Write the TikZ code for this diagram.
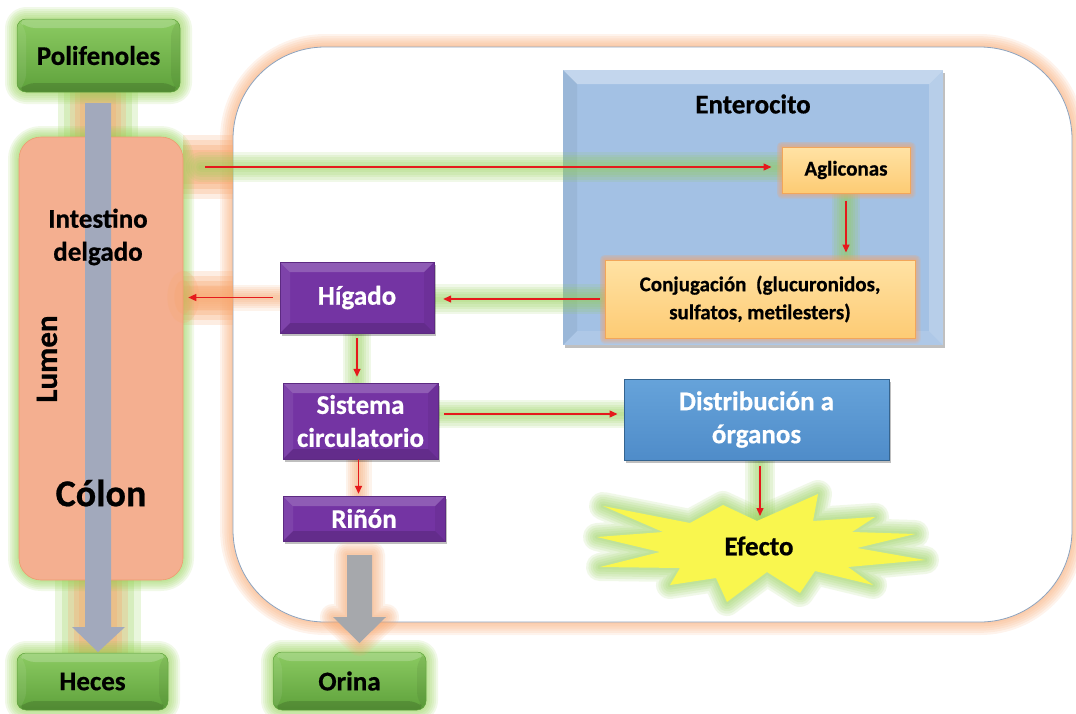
\documentclass[tikz,border=0pt]{standalone}
\usepackage{fontspec}
\setmainfont{Carlito}[BoldFeatures={FakeBold=0.6}]
\usetikzlibrary{arrows.meta,calc}

\definecolor{gl}{HTML}{92D050}
\definecolor{og}{HTML}{F7A56C}
\definecolor{grnT}{HTML}{8CCB62}
\definecolor{grnB}{HTML}{5EA13B}
\definecolor{salmon}{HTML}{F4AF90}
\definecolor{lumE}{HTML}{EE9A70}
\definecolor{purp}{HTML}{7434A3}
\definecolor{entb}{HTML}{A3C1E4}
\definecolor{aglT}{HTML}{FFE2A4}
\definecolor{aglB}{HTML}{FDCB74}
\definecolor{aglE}{HTML}{F2A65A}
\definecolor{distT}{HTML}{66A3DA}
\definecolor{distB}{HTML}{4F8CC9}
\definecolor{distd}{HTML}{35648F}
\definecolor{stary}{HTML}{F9F64E}
\definecolor{arrowred}{HTML}{E5191C}
\definecolor{lumarrow}{HTML}{A2A9BC}
\definecolor{orinarrow}{HTML}{A6A8AC}
\definecolor{bigedge}{HTML}{8DA3BE}

\pgfdeclarelayer{bg}
\pgfdeclarelayer{glow}
\pgfsetlayers{bg,glow,main}

\tikzset{
  lab/.style={font=\bfseries\fontsize{27}{33}\selectfont, align=center, inner sep=0pt, text=black},
  smalllab/.style={font=\bfseries\fontsize{21}{28}\selectfont, align=center, inner sep=0pt, text=black},
  % soft halo: six strokes of decreasing width
  glow/.style 2 args={
    preaction={draw=#1,line width=#2,draw opacity=.13,line join=round,line cap=round},
    preaction={draw=#1,line width=#2*5/6,draw opacity=.13,line join=round,line cap=round},
    preaction={draw=#1,line width=#2*4/6,draw opacity=.13,line join=round,line cap=round},
    preaction={draw=#1,line width=#2*3/6,draw opacity=.13,line join=round,line cap=round},
    preaction={draw=#1,line width=#2*2/6,draw opacity=.13,line join=round,line cap=round},
    preaction={draw=#1,line width=#2/6,draw opacity=.13,line join=round,line cap=round}},
  bandglow/.style={preaction={draw=og,line width=#1+14pt,draw opacity=.2},
                   preaction={draw=og,line width=#1+4pt,draw opacity=.25},
                   preaction={draw=og,line width=#1-6pt,draw opacity=.3},
                   preaction={draw=og,line width=#1-16pt,draw opacity=.3}},
  shadowed/.style={preaction={fill=black,fill opacity=.25,transform canvas={xshift=2pt,yshift=-2.5pt}}},
  bevel/.style={path picture={
      \coordinate (bNW) at (path picture bounding box.north west);
      \coordinate (bNE) at (path picture bounding box.north east);
      \coordinate (bSW) at (path picture bounding box.south west);
      \coordinate (bSE) at (path picture bounding box.south east);
      \fill[white,opacity=.2] (bNW) -- (bNE) -- ($(bNE)+(-#1,-#1)$) -- ($(bNW)+(#1,-#1)$) -- cycle;
      \fill[white,opacity=.08] (bNW) -- ($(bNW)+(#1,-#1)$) -- ($(bSW)+(#1,#1)$) -- (bSW) -- cycle;
      \fill[black,opacity=.06] (bNE) -- (bSE) -- ($(bSE)+(-#1,#1)$) -- ($(bNE)+(-#1,-#1)$) -- cycle;
      \fill[black,opacity=.14] (bSW) -- (bSE) -- ($(bSE)+(-#1,#1)$) -- ($(bSW)+(#1,#1)$) -- cycle;
  }},
  lightbevel/.style={path picture={
      \coordinate (bNW) at (path picture bounding box.north west);
      \coordinate (bNE) at (path picture bounding box.north east);
      \coordinate (bSW) at (path picture bounding box.south west);
      \coordinate (bSE) at (path picture bounding box.south east);
      \fill[white,opacity=.35] (bNW) -- (bNE) -- ($(bNE)+(-#1,-#1)$) -- ($(bNW)+(#1,-#1)$) -- cycle;
      \fill[white,opacity=.22] (bNE) -- (bSE) -- ($(bSE)+(-#1,#1)$) -- ($(bNE)+(-#1,-#1)$) -- cycle;
      \fill[white,opacity=.12] (bSW) -- (bSE) -- ($(bSE)+(-#1,#1)$) -- ($(bSW)+(#1,#1)$) -- cycle;
      \fill[black,opacity=.05] (bNW) -- ($(bNW)+(#1,-#1)$) -- ($(bSW)+(#1,#1)$) -- (bSW) -- cycle;
  }},
  greenbox/.style={lab, rounded corners=9pt, top color=grnT, bottom color=grnB,
                   draw=grnB, line width=.5pt, glow={gl}{24pt}, bevel=9pt},
  purplebox/.style={lab, text=white, fill=purp, draw=purp!80!black, line width=.4pt,
                    shadowed, bevel=10pt},
  aglbox/.style={smalllab, top color=aglT, bottom color=aglB, draw=aglE, line width=1pt,
                 glow={og}{11pt}},
  redarrow/.style={draw=arrowred, line width=1.4pt, -{Triangle[length=8pt,width=7pt]}},
}

\begin{document}
\begin{tikzpicture}[x=1pt,y=1pt]
\useasboundingbox (0,0) rectangle (1076,-713);

% ---------- outer nodes (lumen side) ----------
\node[greenbox, minimum width=163pt, minimum height=73pt] (poli) at (98.5,-55.5) {Polifenoles};
\node[rounded corners=22pt, fill=salmon, draw=lumE, line width=.6pt, glow={gl}{22pt},
      minimum width=164pt, minimum height=443pt, inner sep=0pt] (lum) at (101,-358.5) {};
\node[greenbox, minimum width=151pt, minimum height=57pt] (hec) at (92.5,-681.5) {Heces};
\node[greenbox, minimum width=153pt, minimum height=58pt] (ori) at (349.5,-681) {Orina};

% darker orange spot where the liver arrow reaches the lumen
\fill[og, opacity=.2] (lum.east |- 0,-297) ellipse (16 and 26);
\fill[og, opacity=.25] (lum.east |- 0,-297) ellipse (9 and 17);

% gray flow arrow through the lumen
\coordinate (ltop) at (98,-103);
\coordinate (ltip) at (98,-652);
\fill[lumarrow] ($(ltop)+(-13,0)$) -- ($(ltop)+(13,0)$) -- ($(ltip)+(13,25)$) -- ($(ltip)+(27,25)$)
  -- (ltip) -- ($(ltip)+(-26,25)$) -- ($(ltip)+(-13,25)$) -- cycle;

\node[lab] (intd) at (98,-237) {Intestino\\delgado};
\node[lab, font=\bfseries\fontsize{31}{36}\selectfont, rotate=90] (lumen) at (47,-359) {Lumen};
\node[lab, font=\bfseries\fontsize{38}{44}\selectfont] (colon) at (101,-493) {Cólon};

% ---------- body: organs ----------
\node[purplebox, minimum width=154pt, minimum height=71pt] (hig) at (357,-297.5) {Hígado};
\node[purplebox, minimum width=155pt, minimum height=76pt] (sis) at (360.5,-421) {Sistema\\circulatorio};
\node[purplebox, minimum width=162pt, minimum height=45pt] (rin) at (364,-518.5) {Riñón};

\node[lab, text=white, top color=distT, bottom color=distB, draw=distd, line width=1pt, shadowed,
      minimum width=265pt, minimum height=81pt] (dist) at (756.5,-419.5) {Distribución a\\órganos};

% effect burst
\path[fill=stary, glow={gl}{28pt}] (603,-506) -- (690,-523) -- (723,-505) -- (757,-521) -- (818,-494)
  -- (813,-521) -- (875,-517) -- (852,-532) -- (915,-534) -- (857,-548) -- (925,-560)
  -- (848,-567) -- (873,-585) -- (815,-571) -- (800,-593) -- (767,-572) -- (727,-602)
  -- (716,-578) -- (670,-585) -- (680,-568) -- (600,-567) -- (660,-552) -- (597,-537)
  -- (663,-532) -- cycle;
\node[lab] (eff) at (759,-546) {Efecto};
\coordinate (efftop) at (760,-516);

% enterocyte contents
\node[aglbox, minimum width=128pt, minimum height=46pt] (agl) at (846,-170) {Agliconas};
\node[aglbox, minimum width=310pt, minimum height=78pt] (conj) at (760,-299)
  {Conjugación~~(glucuronidos,\\sulfatos,~metilesters)};

% gray arrow from kidney to urine
\path[glow={og}{26pt}, fill=orinarrow] (347,-555) -- (372,-555) -- (372,-617) -- (386,-617) -- (359.5,-643)
  -- (333,-617) -- (347,-617) -- cycle;

% ---------- background: body outline, enterocyte, glows ----------
\begin{pgfonlayer}{bg}
  \node[draw=bigedge, fill=white, line width=.8pt, rounded corners=92pt, glow={og}{26pt},
        minimum width=839pt, minimum height=575pt, inner sep=0pt] (body) at (652.5,-334.5) {};
  \coordinate (a0) at (205,-167);
  \path[bandglow=50pt] (lum.east |- a0) -- (body.west |- a0);
  \path[bandglow=40pt] (lum.east |- hig.west) -- (body.west |- hig.west);
  \path[preaction={draw=gl,line width=80pt,draw opacity=.2},
        preaction={draw=gl,line width=68pt,draw opacity=.22},
        preaction={draw=og,line width=56pt,draw opacity=.25},
        preaction={draw=og,line width=46pt,draw opacity=.3},
        preaction={draw=og,line width=36pt,draw opacity=.3}]
        (poli.south -| ltop) -- (lum.north -| ltop);
  \path[preaction={draw=gl,line width=86pt,draw opacity=.2},
        preaction={draw=gl,line width=72pt,draw opacity=.22},
        preaction={draw=og,line width=60pt,draw opacity=.25},
        preaction={draw=og,line width=48pt,draw opacity=.3},
        preaction={draw=og,line width=38pt,draw opacity=.3}]
        (lum.south -| ltop) -- (hec.north -| ltop);
  \node[fill=entb, shadowed, lightbevel=14pt, minimum width=380pt, minimum height=275pt, inner sep=0pt]
        (ent) at (753,-207.5) {};
\end{pgfonlayer}
\node[lab] (entlab) at (753,-104) {Enterocito};

\begin{pgfonlayer}{glow}
  \path[glow={gl}{30pt}] ([xshift=-4pt]a0) -- (a0 -| agl.west);
  \path[glow={gl}{28pt}] (agl.south) -- (agl.south |- conj.north);
  \path[glow={gl}{30pt}] (conj.west) -- (conj.west -| hig.east);
  \path[glow={og}{26pt}] (hig.west) -- (hig.west -| lum.east);
  \path[glow={gl}{28pt}] (hig.south) -- (hig.south |- sis.north);
  \path[glow={gl}{28pt}] ([yshift=7pt]sis.east) -- ([yshift=7pt]sis.east -| dist.west);
  \path[glow={og}{26pt}] ([xshift=-2pt]sis.south) -- ([xshift=-2pt]sis.south |- rin.north);
  \path[glow={gl}{30pt}] ([xshift=3.5pt]dist.south) -- ([xshift=3.5pt]dist.south |- efftop);
\end{pgfonlayer}

% ---------- red connectors ----------
\draw[redarrow, shorten >=10pt] (a0) -- (a0 -| agl.west);
\draw[redarrow, shorten <=7pt, shorten >=7pt] (agl.south) -- (agl.south |- conj.north);
\draw[redarrow, shorten <=5pt, shorten >=9pt] (conj.west) -- (conj.west -| hig.east);
\draw[redarrow, shorten <=7pt, shorten >=5pt] (hig.west) -- (hig.west -| lum.east);
\draw[redarrow, shorten <=5pt, shorten >=6pt] (hig.south) -- (hig.south |- sis.north);
\draw[redarrow, shorten <=6pt, shorten >=6pt] ([yshift=7pt]sis.east) -- ([yshift=7pt]sis.east -| dist.west);
\draw[redarrow, shorten >=2pt] ([xshift=-2pt]sis.south) -- ([xshift=-2pt]sis.south |- rin.north);
\draw[redarrow, shorten <=5pt] ([xshift=3.5pt]dist.south) -- ([xshift=3.5pt]dist.south |- efftop);
\end{tikzpicture}
\end{document}
